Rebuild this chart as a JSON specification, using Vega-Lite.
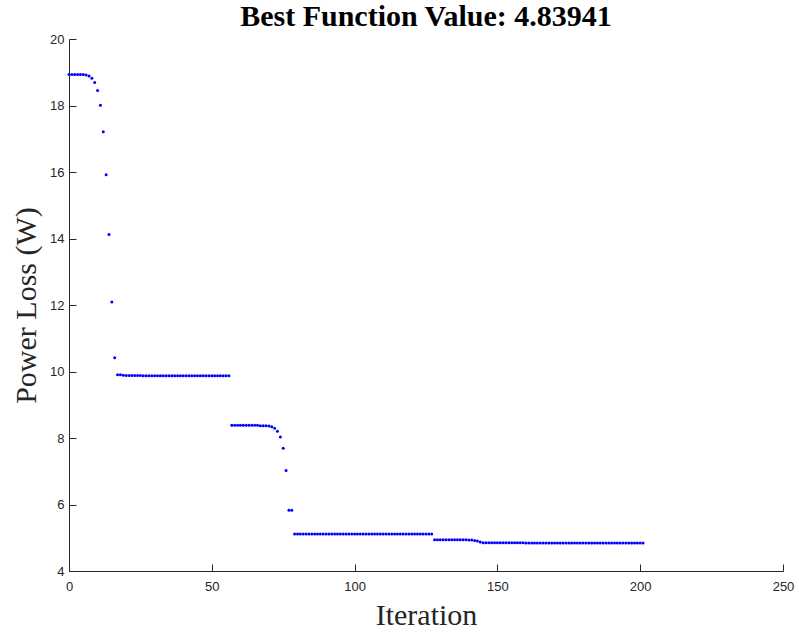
{
  "$schema": "https://vega.github.io/schema/vega-lite/v6.json",
  "width": 714,
  "height": 532,
  "autosize": {"type": "none"},
  "padding": {"left": 69, "top": 39, "right": 16, "bottom": 61},
  "background": "white",
  "config": {"view": {"stroke": null}},
  "title": {
    "text": "Best Function Value: 4.83941",
    "font": "Liberation Serif",
    "fontSize": 30,
    "fontWeight": "bold",
    "color": "#000000",
    "anchor": "middle",
    "offset": 1
  },
  "data": {"values": [
    {"i":0,"v":18.93},{"i":1,"v":18.93},{"i":2,"v":18.93},{"i":3,"v":18.93},{"i":4,"v":18.93},{"i":5,"v":18.93},{"i":6,"v":18.92},
    {"i":7,"v":18.89},{"i":8,"v":18.82},{"i":9,"v":18.69},{"i":10,"v":18.45},{"i":11,"v":18.01},{"i":12,"v":17.21},
    {"i":13,"v":15.92},{"i":14,"v":14.12},{"i":15,"v":12.09},{"i":16,"v":10.41},{"i":17,"v":9.9},{"i":18,"v":9.9},{"i":19,"v":9.89},
    {"i":20,"v":9.88},{"i":21,"v":9.88},{"i":22,"v":9.88},{"i":23,"v":9.88},{"i":24,"v":9.88},{"i":25,"v":9.88},{"i":26,"v":9.87},
    {"i":27,"v":9.87},{"i":28,"v":9.87},{"i":29,"v":9.87},{"i":30,"v":9.87},{"i":31,"v":9.87},{"i":32,"v":9.87},{"i":33,"v":9.87},
    {"i":34,"v":9.87},{"i":35,"v":9.87},{"i":36,"v":9.87},{"i":37,"v":9.87},{"i":38,"v":9.87},{"i":39,"v":9.87},{"i":40,"v":9.87},
    {"i":41,"v":9.87},{"i":42,"v":9.87},{"i":43,"v":9.87},{"i":44,"v":9.87},{"i":45,"v":9.87},{"i":46,"v":9.87},{"i":47,"v":9.87},
    {"i":48,"v":9.87},{"i":49,"v":9.87},{"i":50,"v":9.87},{"i":51,"v":9.87},{"i":52,"v":9.87},{"i":53,"v":9.87},{"i":54,"v":9.87},
    {"i":55,"v":9.87},{"i":56,"v":9.87},
    {"i":57,"v":8.38},{"i":58,"v":8.38},{"i":59,"v":8.38},{"i":60,"v":8.38},{"i":61,"v":8.38},{"i":62,"v":8.38},{"i":63,"v":8.38},
    {"i":64,"v":8.38},{"i":65,"v":8.38},{"i":66,"v":8.38},{"i":67,"v":8.37},{"i":68,"v":8.37},{"i":69,"v":8.37},{"i":70,"v":8.36},
    {"i":71,"v":8.34},{"i":72,"v":8.29},{"i":73,"v":8.2},{"i":74,"v":8.03},{"i":75,"v":7.69},{"i":76,"v":7.02},{"i":77,"v":5.83},{"i":78,"v":5.83},
    {"i":79,"v":5.11},{"i":80,"v":5.11},{"i":81,"v":5.11},{"i":82,"v":5.11},{"i":83,"v":5.11},{"i":84,"v":5.11},{"i":85,"v":5.11},
    {"i":86,"v":5.11},{"i":87,"v":5.11},{"i":88,"v":5.11},{"i":89,"v":5.11},{"i":90,"v":5.11},{"i":91,"v":5.11},{"i":92,"v":5.11},
    {"i":93,"v":5.11},{"i":94,"v":5.11},{"i":95,"v":5.11},{"i":96,"v":5.11},{"i":97,"v":5.11},{"i":98,"v":5.11},{"i":99,"v":5.11},
    {"i":100,"v":5.11},{"i":101,"v":5.11},{"i":102,"v":5.11},{"i":103,"v":5.11},{"i":104,"v":5.11},{"i":105,"v":5.11},{"i":106,"v":5.11},
    {"i":107,"v":5.11},{"i":108,"v":5.11},{"i":109,"v":5.11},{"i":110,"v":5.11},{"i":111,"v":5.11},{"i":112,"v":5.11},{"i":113,"v":5.11},
    {"i":114,"v":5.11},{"i":115,"v":5.11},{"i":116,"v":5.11},{"i":117,"v":5.11},{"i":118,"v":5.11},{"i":119,"v":5.11},{"i":120,"v":5.11},
    {"i":121,"v":5.11},{"i":122,"v":5.11},{"i":123,"v":5.11},{"i":124,"v":5.11},{"i":125,"v":5.11},{"i":126,"v":5.11},{"i":127,"v":5.11},
    {"i":128,"v":4.94},{"i":129,"v":4.94},{"i":130,"v":4.94},{"i":131,"v":4.94},{"i":132,"v":4.94},{"i":133,"v":4.94},{"i":134,"v":4.94},
    {"i":135,"v":4.94},{"i":136,"v":4.94},{"i":137,"v":4.94},{"i":138,"v":4.94},{"i":139,"v":4.94},{"i":140,"v":4.93},{"i":141,"v":4.93},
    {"i":142,"v":4.92},{"i":143,"v":4.9},{"i":144,"v":4.87},{"i":145,"v":4.85},
    {"i":146,"v":4.848},{"i":147,"v":4.848},{"i":148,"v":4.848},{"i":149,"v":4.848},{"i":150,"v":4.848},{"i":151,"v":4.847},{"i":152,"v":4.847},
    {"i":153,"v":4.847},{"i":154,"v":4.847},{"i":155,"v":4.846},{"i":156,"v":4.846},{"i":157,"v":4.846},{"i":158,"v":4.846},{"i":159,"v":4.846},
    {"i":160,"v":4.845},{"i":161,"v":4.845},{"i":162,"v":4.845},{"i":163,"v":4.845},{"i":164,"v":4.845},{"i":165,"v":4.844},{"i":166,"v":4.844},
    {"i":167,"v":4.844},{"i":168,"v":4.844},{"i":169,"v":4.844},{"i":170,"v":4.843},{"i":171,"v":4.843},{"i":172,"v":4.843},{"i":173,"v":4.843},
    {"i":174,"v":4.843},{"i":175,"v":4.842},{"i":176,"v":4.842},{"i":177,"v":4.842},{"i":178,"v":4.842},{"i":179,"v":4.842},{"i":180,"v":4.841},
    {"i":181,"v":4.841},{"i":182,"v":4.841},{"i":183,"v":4.841},{"i":184,"v":4.841},{"i":185,"v":4.841},{"i":186,"v":4.84},{"i":187,"v":4.84},
    {"i":188,"v":4.84},{"i":189,"v":4.84},{"i":190,"v":4.84},{"i":191,"v":4.84},{"i":192,"v":4.84},{"i":193,"v":4.84},{"i":194,"v":4.8394},
    {"i":195,"v":4.8394},{"i":196,"v":4.8394},{"i":197,"v":4.8394},{"i":198,"v":4.8394},{"i":199,"v":4.8394},{"i":200,"v":4.8394},{"i":201,"v":4.83941}
  ]},
  "mark": {"type": "point", "filled": true, "size": 9, "opacity": 1, "color": "#0000ff"},
  "encoding": {
    "x": {
      "field": "i", "type": "quantitative",
      "scale": {"domain": [0, 250], "nice": false, "zero": false},
      "axis": {
        "title": "Iteration", "values": [0, 50, 100, 150, 200, 250], "grid": false, "labelFlush": false,
        "domainColor": "#262626", "tickColor": "#262626", "tickSize": -7, "tickWidth": 1,
        "labelColor": "#262626", "labelFont": "Liberation Sans", "labelFontSize": 13, "labelPadding": 16,
        "titleFont": "Liberation Serif", "titleFontSize": 30, "titleFontWeight": "normal", "titleColor": "#262626", "titlePadding": 7
      }
    },
    "y": {
      "field": "v", "type": "quantitative",
      "scale": {"domain": [4, 20], "nice": false, "zero": false},
      "axis": {
        "title": "Power Loss (W)", "values": [4, 6, 8, 10, 12, 14, 16, 18, 20], "grid": false, "labelFlush": false,
        "domainColor": "#262626", "tickColor": "#262626", "tickSize": -7, "tickWidth": 1,
        "labelColor": "#262626", "labelFont": "Liberation Sans", "labelFontSize": 13, "labelPadding": 12,
        "titleFont": "Liberation Serif", "titleFontSize": 30, "titleFontWeight": "normal", "titleColor": "#262626", "titlePadding": 8
      }
    }
  }
}
